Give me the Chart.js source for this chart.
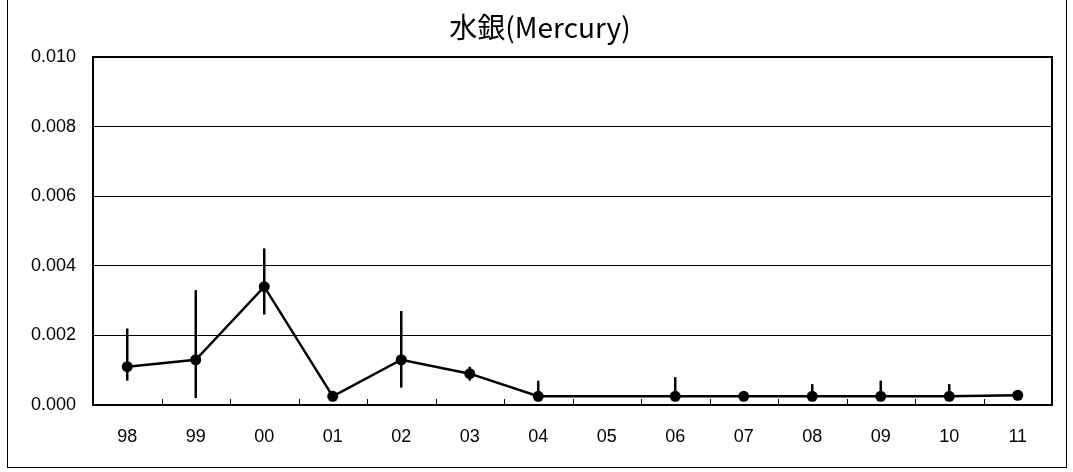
<!DOCTYPE html>
<html>
<head>
<meta charset="utf-8">
<script src="https://cdn.jsdelivr.net/npm/chart.js@4.4.0/dist/chart.umd.min.js"></script>
<style>
  html, body { margin: 0; padding: 0; background: #fff; }
  #wrap { position: relative; width: 1073px; height: 472px; }
  #frame { position: absolute; left: 7px; top: -1px; width: 1058px; height: 467px; border: 1px solid #000; pointer-events: none; }
  canvas { position: absolute; left: 0; top: 0; }
</style>
</head>
<body>
<div id="wrap">
  <canvas id="hg" width="1073" height="472"></canvas>
  <div id="frame"></div>
</div>
<script>
(function() {
  'use strict';

  // ── Data ──
  var years   = ['98', '99', '00', '01', '02', '03', '04', '05', '06', '07', '08', '09', '10', '11'];
  var means   = [0.0011, 0.0013, 0.0034, 0.00025, 0.0013, 0.0009, 0.00025, null, 0.00025, 0.00025, 0.00025, 0.00025, 0.00025, 0.00028];
  var errHigh = [0.0022, 0.0033, 0.0045, null, 0.0027, 0.0011, 0.0007, null, 0.0008, null, 0.0006, 0.0007, 0.0006, null];
  var errLow  = [0.0007, 0.0002, 0.0026, null, 0.0005, 0.0007, 0.00025, null, 0.00025, null, 0.00025, 0.00025, 0.00025, null];
  var yTicks  = [0, 0.002, 0.004, 0.006, 0.008, 0.010];

  var FONT = "'Liberation Sans', Arial, sans-serif";

  // ── Error bars, inner x ticks and plot frame ──
  var extras = {
    id: 'extras',
    beforeDatasetsDraw: function(chart) {
      var ctx = chart.ctx;
      var x = chart.scales.x, y = chart.scales.y;
      var a = chart.chartArea;
      ctx.save();
      ctx.strokeStyle = '#000';
      // category boundary ticks pointing into the plot
      ctx.lineWidth = 1;
      for (var i = 1; i < years.length; i++) {
        var bx = Math.round((x.getPixelForValue(i - 1) + x.getPixelForValue(i)) / 2) + 0.5;
        ctx.beginPath();
        ctx.moveTo(bx, a.bottom);
        ctx.lineTo(bx, a.bottom - 6);
        ctx.stroke();
      }
      // error bars
      ctx.lineWidth = 2.5;
      for (var j = 0; j < years.length; j++) {
        if (errHigh[j] == null) continue;
        var px = x.getPixelForValue(j);
        ctx.beginPath();
        ctx.moveTo(px, y.getPixelForValue(errHigh[j]));
        ctx.lineTo(px, y.getPixelForValue(errLow[j]));
        ctx.stroke();
      }
      ctx.restore();
    },
    afterDraw: function(chart) {
      var ctx = chart.ctx, a = chart.chartArea;
      ctx.save();
      ctx.strokeStyle = '#000';
      ctx.lineWidth = 2;
      ctx.strokeRect(a.left, a.top, a.right - a.left, a.bottom - a.top);
      ctx.restore();
    }
  };

  new Chart(document.getElementById('hg').getContext('2d'), {
    type: 'line',
    data: {
      labels: years,
      datasets: [{
        data: means,
        borderColor: '#000',
        backgroundColor: '#000',
        borderWidth: 2.5,
        pointRadius: 5.5,
        pointBackgroundColor: '#000',
        pointBorderWidth: 0,
        spanGaps: true,
        tension: 0
      }]
    },
    options: {
      responsive: false,
      animation: false,
      layout: { padding: { left: 28, right: 21, top: 0, bottom: 0 } },
      plugins: {
        legend: { display: false },
        tooltip: { enabled: false },
        title: {
          display: true,
          text: '水銀(Mercury)',
          color: '#000',
          font: { size: 28, weight: 'normal', family: "'Noto Sans CJK JP', sans-serif", lineHeight: 1.2 },
          padding: { top: 11, bottom: 12.4 }
        }
      },
      scales: {
        x: {
          offset: true,
          grid: { display: false, drawTicks: false },
          border: { color: '#000', width: 2 },
          ticks: { color: '#000', padding: 21, font: { size: 18, family: FONT } },
          afterFit: function(s) { s.height = 67; }
        },
        y: {
          min: 0,
          max: 0.010,
          afterBuildTicks: function(s) { s.ticks = yTicks.map(function(v) { return { value: v }; }); },
          grid: { color: '#000', lineWidth: 1, drawTicks: false },
          border: { color: '#000', width: 2 },
          ticks: {
            color: '#000',
            padding: 17,
            font: { size: 18, family: FONT },
            callback: function(v) { return Number(v).toFixed(3); }
          },
          afterFit: function(s) { s.width = 65; }
        }
      }
    },
    plugins: [extras]
  });
})();
</script>
</body>
</html>
